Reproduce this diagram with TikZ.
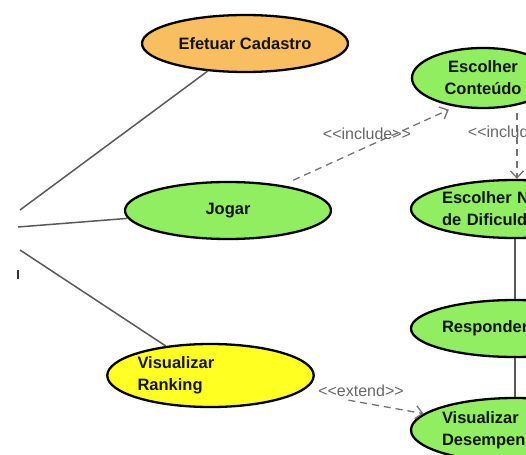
\documentclass[tikz,border=0pt]{standalone}
\usepackage{fontspec}
\setmainfont{Liberation Sans}
\newfontfamily\lblfont{Liberation Sans}[Ligatures=TeXOff]
\usetikzlibrary{shapes.geometric,arrows.meta}

\definecolor{ucorange}{RGB}{248,190,95}
\definecolor{ucgreen}{RGB}{144,238,96}
\definecolor{ucyellow}{RGB}{255,255,34}

\begin{document}
\begin{tikzpicture}[x=1pt,y=-1pt,
   uc/.style={ellipse, draw=black, line width=2.3pt, inner sep=0pt, text=black!92,
      font=\bfseries\fontsize{16.5}{22}\selectfont, align=center},
   ucl/.style={uc, text width=146pt, align=left},
   assoc/.style={draw=black!65, line width=1.5pt},
   dep/.style={draw=black!55, line width=1.3pt, dash pattern=on 7pt off 5pt,
      -{Straight Barb[length=7pt,width=13pt]}},
   stereo/.style={text=black!60, font=\lblfont\fontsize{16}{18}\selectfont}]

   \useasboundingbox (0,0) rectangle (526,454);
   \clip (0,0) rectangle (526,454);

   % casos de uso
   \node[uc, fill=ucorange, minimum width=206pt, minimum height=57pt] (cad) at (245,43.5) {Efetuar Cadastro};
   \node[uc, fill=ucgreen, minimum width=206pt, minimum height=57pt] (jogar) at (228,210.5) {Jogar};
   \node[ucl, fill=ucyellow, minimum width=205pt, minimum height=63pt] (rank) at (210.5,375.5) {Visualizar\\Ranking};

   \node[uc, fill=ucgreen, minimum width=142pt, minimum height=60pt] (cont) at (483,78) {Escolher\\Conteúdo};
   \node[ucl, fill=ucgreen, minimum width=208pt, minimum height=58pt] (nivel) at (515,209) {Escolher Nível\\de Dificuldade};
   \node[ucl, fill=ucgreen, minimum width=208pt, minimum height=57pt] (resp) at (515,328.5) {Responder};
   \node[ucl, fill=ucgreen, minimum width=208pt, minimum height=64pt] (desemp) at (515,430) {Visualizar\\Desempenho};

   % ator (fora do quadro)
   \coordinate (a1) at (20,210);
   \coordinate (a2) at (18,227);
   \coordinate (a3) at (20,250);
   \draw[black!80, line width=2pt] (18,270) -- (18,279);

   \draw[assoc] (a1) -- (cad);
   \draw[assoc] (a2) -- (jogar);
   \draw[assoc] (a3) -- (rank);

   \draw[assoc] (nivel) -- (resp);
   \draw[assoc] (resp) -- (desemp);

   % include / extend
   \draw[dep, shorten <=12pt, shorten >=7pt] (jogar.25) -- (cont.-134);
   \draw[dep, shorten <=8pt] (cont.-39) -- (cont.-39 |- nivel.north);
   \draw[dep, shorten <=48pt] (rank) -- (desemp);

   \node[stereo] (inc1) at (367,134) {<<include>>};
   \node[stereo] (inc2) at (512,132) {<<include>>};
   \node[stereo] (ext) at (361,391) {<<extend>>};

\end{tikzpicture}
\end{document}
